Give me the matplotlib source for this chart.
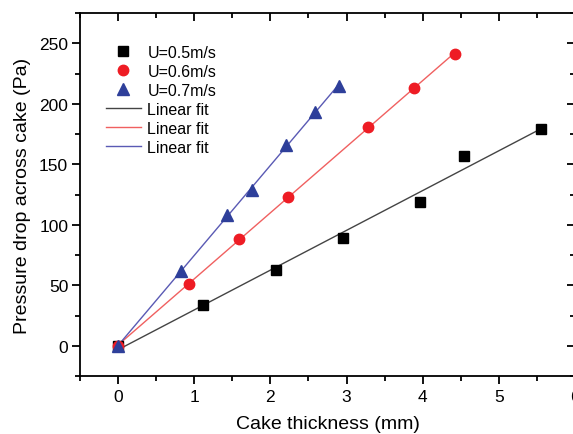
import numpy as np
import matplotlib
matplotlib.use("Agg")
from matplotlib import pyplot as plt
from matplotlib.ticker import MultipleLocator

plt.rcParams["font.family"] = ["Liberation Sans", "DejaVu Sans"]

# Data
x_05 = [0.0, 1.12, 2.07, 2.95, 3.96, 4.54, 5.55]
y_05 = [0, 34, 63, 89, 119, 157, 179]

x_06 = [0.0, 0.93, 1.59, 2.23, 3.28, 3.88, 4.43]
y_06 = [0, 51, 88, 123, 181, 213, 241]

x_07 = [0.0, 0.83, 1.43, 1.76, 2.21, 2.58, 2.90]
y_07 = [0, 62, 108, 129, 166, 193, 215]

labels = ["U=0.5m/s", "U=0.6m/s", "U=0.7m/s"]

fig = plt.figure(figsize=(5.73, 4.35), dpi=100)
ax = fig.add_axes([80 / 573, 1 - 377 / 435, 495 / 573, 363 / 435])

# Scatter points
ax.plot(x_05, y_05, ls="none", marker="s", ms=6.5, color="black", label=labels[0], zorder=3)
ax.plot(x_06, y_06, ls="none", marker="o", ms=7.5, color="#ee1c24", label=labels[1], zorder=3)
ax.plot(x_07, y_07, ls="none", marker="^", ms=8.5, color="#2e3f9a", label=labels[2], zorder=3)

# Linear fits
fit_cols = ["#444444", "#f06060", "#5a5ab4"]
for (xs, ys), c in zip([(x_05, y_05), (x_06, y_06), (x_07, y_07)], fit_cols):
    p = np.polyfit(xs, ys, 1)
    xx = np.array([min(xs), max(xs)])
    ax.plot(xx, np.polyval(p, xx), color=c, lw=1.0, label="Linear fit", zorder=2)

ax.set_xlim(-0.5, 6)
ax.set_ylim(-25, 275)
ax.xaxis.set_major_locator(MultipleLocator(1))
ax.xaxis.set_minor_locator(MultipleLocator(0.5))
ax.yaxis.set_major_locator(MultipleLocator(50))
ax.yaxis.set_minor_locator(MultipleLocator(25))

ax.tick_params(which="both", direction="out", width=1.3, labelsize=12.5)
ax.tick_params(which="major", length=6)
ax.tick_params(which="minor", length=3.5)
ax.tick_params(axis="y", pad=2.5)
ax.tick_params(which="both", top=True, right=True)
# top/right ticks point inward
for t in ax.xaxis.get_ticklines(minor=False)[1::2] + ax.xaxis.get_ticklines(minor=True)[1::2]:
    t.set_marker(3)  # TICKDOWN
for t in ax.yaxis.get_ticklines(minor=False)[1::2] + ax.yaxis.get_ticklines(minor=True)[1::2]:
    t.set_marker(0)  # TICKLEFT
for s in ax.spines.values():
    s.set_linewidth(1.3)

ax.set_xlabel("Cake thickness (mm)", fontsize=14, labelpad=8)
ax.set_ylabel("Pressure drop across cake (Pa)", fontsize=14, labelpad=6)

ax.legend(loc="upper left", frameon=False, fontsize=11.5, handlelength=2.2,
          labelspacing=0.25, borderaxespad=0.6, bbox_to_anchor=(0.02, 0.956),
          handletextpad=0.4)

fig.savefig("out.png", dpi=100)
